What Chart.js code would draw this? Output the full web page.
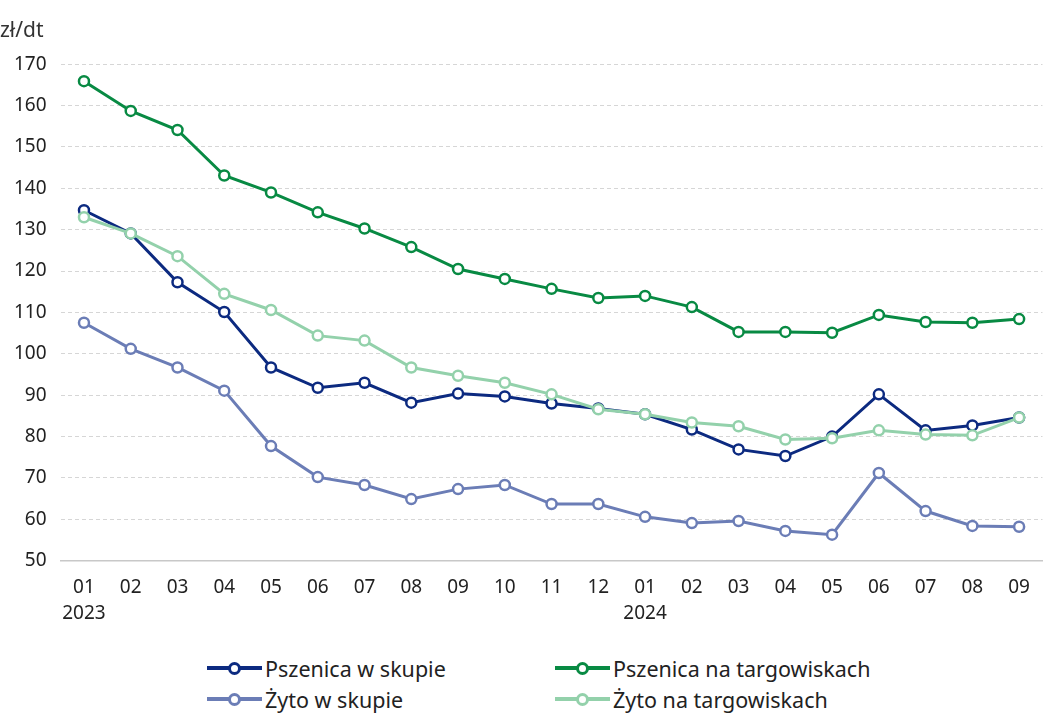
<!DOCTYPE html>
<html>
<head>
<meta charset="utf-8">
<script src="https://cdn.jsdelivr.net/npm/chart.js@4"></script>
<style>
  body { margin: 0; background: #fff; font-family: "Noto Sans", sans-serif; }
  #wrap { position: relative; width: 1050px; height: 632px; }
  #legend { position: absolute; left: 207px; top: 656px; display: grid;
            grid-template-columns: 348px 340px; row-gap: 7px; font-size: 21.5px; color: #222; }
  .item { display: flex; align-items: center; height: 24px; }
  .mark { position: relative; width: 55px; height: 24px; margin-right: 3px; }
  .mark .ln { position: absolute; left: 0; right: 0; top: 10px; height: 4px; }
  .mark .dot { position: absolute; left: 21px; top: 6px; width: 7px; height: 7px;
               border-radius: 50%; background: #fff; border: 3px solid; }
</style>
</head>
<body>
<div id="wrap"><canvas id="chart"></canvas></div>
<div id="legend"></div>
<script>
const months = [
  ['01', '2023'], '02', '03', '04', '05', '06', '07', '08', '09', '10', '11', '12',
  ['01', '2024'], '02', '03', '04', '05', '06', '07', '08', '09'
];
const pszenicaSkup = [134.7, 129.1, 117.3, 110.1, 96.7, 91.8, 93.0, 88.2, 90.4, 89.7, 88.0, 86.8,
  85.4, 81.7, 76.9, 75.3, 80.0, 90.2, 81.5, 82.7, 84.6];
const pszenicaTarg = [165.9, 158.7, 154.1, 143.1, 139.0, 134.2, 130.3, 125.8, 120.5, 118.1, 115.7, 113.5,
  114.0, 111.3, 105.3, 105.3, 105.1, 109.4, 107.7, 107.5, 108.4];
const zytoSkup = [107.5, 101.2, 96.7, 91.1, 77.7, 70.2, 68.3, 64.9, 67.3, 68.3, 63.7, 63.7,
  60.6, 59.1, 59.6, 57.2, 56.3, 71.2, 62.0, 58.4, 58.2];
const zytoTarg = [133.0, 129.1, 123.6, 114.5, 110.6, 104.4, 103.2, 96.7, 94.7, 93.0, 90.2, 86.6,
  85.4, 83.4, 82.5, 79.3, 79.6, 81.5, 80.5, 80.3, 84.6];
const yTicks = [50, 60, 70, 80, 90, 100, 110, 120, 130, 140, 150, 160, 170];

function series(label, data, color) {
  return {
    label: label, data: data, borderColor: color, backgroundColor: color,
    borderWidth: 3, pointRadius: 5, pointBorderWidth: 2.5,
    pointBackgroundColor: '#fff', pointBorderColor: color, tension: 0
  };
}

const datasets = [
  series('Żyto na targowiskach', zytoTarg, '#93d1ab'),
  series('Żyto w skupie', zytoSkup, '#6b7db6'),
  series('Pszenica na targowiskach', pszenicaTarg, '#088a43'),
  series('Pszenica w skupie', pszenicaSkup, '#0c2a80')
];

const ctx = document.getElementById('chart');
const chart = new Chart(ctx, {
  type: 'line',
  data: { labels: months, datasets: datasets },
  options: {
    responsive: true,
    maintainAspectRatio: false,
    animation: false,
    layout: { padding: { left: 0, right: 0, top: 8, bottom: 0 } },
    plugins: {
      legend: { display: false },
      tooltip: { enabled: false },
      title: {
        display: true, text: 'zł/dt', align: 'start', color: '#333',
        font: { family: 'Noto Sans', size: 21, weight: 'normal' },
        padding: { top: 10, bottom: 21 }
      }
    },
    scales: {
      x: {
        offset: true,
        grid: { display: false },
        border: { color: '#c8c8c8', width: 1.5 },
        ticks: { color: '#222', font: { family: 'Noto Sans', size: 19, lineHeight: 1.35 }, padding: 6,
                 maxRotation: 0, autoSkip: false }
      },
      y: {
        min: 50, max: 170,
        afterBuildTicks: axis => { axis.ticks = yTicks.map(v => ({ value: v })); },
        grid: { color: '#d6d6d6', drawTicks: false },
        border: { display: false, dash: [4, 3] },
        ticks: { color: '#222', font: { family: 'Noto Sans', size: 19 }, padding: 14 }
      }
    }
  }
});

// legend in the reference order, two columns
const order = ['Pszenica w skupie', 'Pszenica na targowiskach', 'Żyto w skupie', 'Żyto na targowiskach'];
const legend = document.getElementById('legend');
order.forEach(name => {
  const ds = datasets.find(d => d.label === name);
  const item = document.createElement('div');
  item.className = 'item';
  item.innerHTML = '<span class="mark"><span class="ln" style="background:' + ds.borderColor +
    '"></span><span class="dot" style="border-color:' + ds.borderColor + '"></span></span>' + ds.label;
  legend.appendChild(item);
});
</script>
</body>
</html>
